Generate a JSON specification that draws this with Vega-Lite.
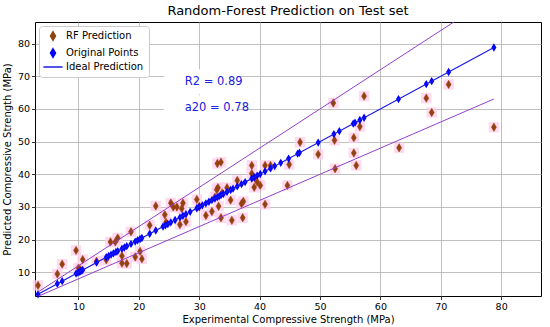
{
  "$schema": "https://vega.github.io/schema/vega-lite/v6.json",
  "autosize": "none",
  "width": 506,
  "height": 274,
  "padding": {"left": 35, "top": 22, "right": 9, "bottom": 31},
  "background": "white",
  "config": {
    "font": "DejaVu Sans",
    "view": {"stroke": "black", "strokeWidth": 1},
    "axis": {
      "gridColor": "#b0b0b0", "gridWidth": 0.8, "gridOpacity": 1,
      "domain": false, "tickColor": "black", "tickSize": 3.5, "tickWidth": 0.8,
      "labelFont": "DejaVu Sans", "labelFontSize": 9.5, "labelColor": "black", "labelPadding": 2, "labelOverlap": false, "labelFlush": false,
      "titleFont": "DejaVu Sans", "titleFontSize": 10, "titleFontWeight": "normal", "titleColor": "black"
    }
  },
  "title": {"text": "Random-Forest Prediction on Test set", "font": "DejaVu Sans", "fontSize": 13, "fontWeight": "normal", "color": "black", "offset": 4},
  "datasets": {
    "rf": [
      {"s":"RF Prediction","x":3.3,"y":6.0},{"s":"RF Prediction","x":6.5,"y":9.5},{"s":"RF Prediction","x":7.3,"y":12.5},
      {"s":"RF Prediction","x":9.6,"y":16.7},{"s":"RF Prediction","x":10.0,"y":11.3},{"s":"RF Prediction","x":10.3,"y":10.8},
      {"s":"RF Prediction","x":10.7,"y":13.9},{"s":"RF Prediction","x":13.0,"y":13.4},{"s":"RF Prediction","x":14.6,"y":13.8},
      {"s":"RF Prediction","x":15.3,"y":19.3},{"s":"RF Prediction","x":16.1,"y":19.3},{"s":"RF Prediction","x":16.5,"y":20.5},
      {"s":"RF Prediction","x":17.2,"y":12.8},{"s":"RF Prediction","x":17.2,"y":15.0},{"s":"RF Prediction","x":18.0,"y":12.7},
      {"s":"RF Prediction","x":18.7,"y":22.4},{"s":"RF Prediction","x":19.4,"y":14.7},{"s":"RF Prediction","x":20.2,"y":16.4},
      {"s":"RF Prediction","x":20.5,"y":14.1},{"s":"RF Prediction","x":21.8,"y":24.4},{"s":"RF Prediction","x":22.8,"y":30.3},
      {"s":"RF Prediction","x":24.3,"y":27.6},{"s":"RF Prediction","x":24.5,"y":25.3},{"s":"RF Prediction","x":25.3,"y":31.2},
      {"s":"RF Prediction","x":25.7,"y":30.0},{"s":"RF Prediction","x":26.3,"y":30.0},{"s":"RF Prediction","x":26.8,"y":24.6},
      {"s":"RF Prediction","x":27.1,"y":29.5},{"s":"RF Prediction","x":27.3,"y":31.2},{"s":"RF Prediction","x":27.8,"y":25.5},
      {"s":"RF Prediction","x":29.6,"y":32.3},{"s":"RF Prediction","x":30.0,"y":30.2},{"s":"RF Prediction","x":31.1,"y":27.4},
      {"s":"RF Prediction","x":32.1,"y":28.6},{"s":"RF Prediction","x":32.6,"y":33.0},{"s":"RF Prediction","x":32.9,"y":35.3},
      {"s":"RF Prediction","x":33.1,"y":35.9},{"s":"RF Prediction","x":33.0,"y":43.3},{"s":"RF Prediction","x":33.6,"y":43.7},
      {"s":"RF Prediction","x":33.2,"y":30.2},{"s":"RF Prediction","x":33.6,"y":26.7},{"s":"RF Prediction","x":33.8,"y":34.3},
      {"s":"RF Prediction","x":34.6,"y":35.9},{"s":"RF Prediction","x":35.2,"y":32.1},{"s":"RF Prediction","x":35.4,"y":25.9},
      {"s":"RF Prediction","x":36.3,"y":38.1},{"s":"RF Prediction","x":37.0,"y":31.0},{"s":"RF Prediction","x":37.3,"y":31.7},
      {"s":"RF Prediction","x":37.2,"y":26.7},{"s":"RF Prediction","x":38.7,"y":42.7},{"s":"RF Prediction","x":38.7,"y":40.2},
      {"s":"RF Prediction","x":39.2,"y":38.9},{"s":"RF Prediction","x":39.1,"y":36.0},{"s":"RF Prediction","x":39.6,"y":37.6},
      {"s":"RF Prediction","x":40.1,"y":36.6},{"s":"RF Prediction","x":40.9,"y":30.8},{"s":"RF Prediction","x":40.9,"y":42.7},
      {"s":"RF Prediction","x":41.8,"y":42.7},{"s":"RF Prediction","x":44.6,"y":36.6},{"s":"RF Prediction","x":44.9,"y":43.0},
      {"s":"RF Prediction","x":46.7,"y":49.8},{"s":"RF Prediction","x":49.7,"y":46.1},{"s":"RF Prediction","x":52.2,"y":61.8},
      {"s":"RF Prediction","x":52.4,"y":50.4},{"s":"RF Prediction","x":52.5,"y":41.7},{"s":"RF Prediction","x":55.6,"y":51.2},
      {"s":"RF Prediction","x":55.6,"y":46.5},{"s":"RF Prediction","x":56.0,"y":42.7},{"s":"RF Prediction","x":56.6,"y":54.6},
      {"s":"RF Prediction","x":57.3,"y":63.9},{"s":"RF Prediction","x":63.1,"y":48.1},{"s":"RF Prediction","x":67.6,"y":63.3},
      {"s":"RF Prediction","x":68.5,"y":58.9},{"s":"RF Prediction","x":71.3,"y":67.5},{"s":"RF Prediction","x":78.8,"y":54.4}
    ],
    "orig": [
      {"s":"Original Points","x":3.3,"y":3.3},{"s":"Original Points","x":6.5,"y":6.5},{"s":"Original Points","x":7.3,"y":7.3},{"s":"Original Points","x":9.6,"y":9.6},
      {"s":"Original Points","x":9.9,"y":9.9},{"s":"Original Points","x":10.1,"y":10.1},{"s":"Original Points","x":10.3,"y":10.3},{"s":"Original Points","x":10.5,"y":10.5},
      {"s":"Original Points","x":10.7,"y":10.7},{"s":"Original Points","x":13.0,"y":13.0},{"s":"Original Points","x":14.6,"y":14.6},{"s":"Original Points","x":15.0,"y":15.0},
      {"s":"Original Points","x":15.4,"y":15.4},{"s":"Original Points","x":15.8,"y":15.8},{"s":"Original Points","x":16.2,"y":16.2},{"s":"Original Points","x":16.5,"y":16.5},
      {"s":"Original Points","x":17.2,"y":17.2},{"s":"Original Points","x":17.6,"y":17.6},{"s":"Original Points","x":18.0,"y":18.0},{"s":"Original Points","x":18.7,"y":18.7},
      {"s":"Original Points","x":19.4,"y":19.4},{"s":"Original Points","x":19.8,"y":19.8},{"s":"Original Points","x":20.2,"y":20.2},{"s":"Original Points","x":20.5,"y":20.5},
      {"s":"Original Points","x":21.8,"y":21.8},{"s":"Original Points","x":22.8,"y":22.8},{"s":"Original Points","x":24.0,"y":24.0},{"s":"Original Points","x":24.4,"y":24.4},
      {"s":"Original Points","x":24.8,"y":24.8},{"s":"Original Points","x":25.3,"y":25.3},{"s":"Original Points","x":26.0,"y":26.0},{"s":"Original Points","x":26.8,"y":26.8},
      {"s":"Original Points","x":27.3,"y":27.3},{"s":"Original Points","x":27.8,"y":27.8},{"s":"Original Points","x":28.5,"y":28.5},{"s":"Original Points","x":29.6,"y":29.6},
      {"s":"Original Points","x":30.0,"y":30.0},{"s":"Original Points","x":30.5,"y":30.5},{"s":"Original Points","x":31.1,"y":31.1},{"s":"Original Points","x":31.6,"y":31.6},
      {"s":"Original Points","x":32.1,"y":32.1},{"s":"Original Points","x":32.6,"y":32.6},{"s":"Original Points","x":33.0,"y":33.0},{"s":"Original Points","x":33.3,"y":33.3},
      {"s":"Original Points","x":33.6,"y":33.6},{"s":"Original Points","x":34.0,"y":34.0},{"s":"Original Points","x":34.6,"y":34.6},{"s":"Original Points","x":35.2,"y":35.2},
      {"s":"Original Points","x":35.6,"y":35.6},{"s":"Original Points","x":36.3,"y":36.3},{"s":"Original Points","x":37.0,"y":37.0},{"s":"Original Points","x":37.6,"y":37.6},
      {"s":"Original Points","x":38.7,"y":38.7},{"s":"Original Points","x":39.1,"y":39.1},{"s":"Original Points","x":39.6,"y":39.6},{"s":"Original Points","x":40.1,"y":40.1},
      {"s":"Original Points","x":40.9,"y":40.9},{"s":"Original Points","x":41.8,"y":41.8},{"s":"Original Points","x":42.5,"y":42.5},{"s":"Original Points","x":43.5,"y":43.5},
      {"s":"Original Points","x":44.8,"y":44.8},{"s":"Original Points","x":46.3,"y":46.3},{"s":"Original Points","x":46.6,"y":46.6},{"s":"Original Points","x":49.7,"y":49.7},
      {"s":"Original Points","x":52.3,"y":52.3},{"s":"Original Points","x":53.2,"y":53.2},{"s":"Original Points","x":55.5,"y":55.5},{"s":"Original Points","x":55.8,"y":55.8},
      {"s":"Original Points","x":56.6,"y":56.6},{"s":"Original Points","x":57.3,"y":57.3},{"s":"Original Points","x":63.0,"y":63.0},{"s":"Original Points","x":67.6,"y":67.6},
      {"s":"Original Points","x":68.5,"y":68.5},{"s":"Original Points","x":71.3,"y":71.3},{"s":"Original Points","x":78.8,"y":78.8}
    ],
    "ideal": [
      {"s":"Ideal Prediction","x":3.3,"y":3.3},{"s":"Ideal Prediction","x":78.8,"y":78.8}
    ],
    "bounds": [
      {"g":"upper","x":3.3,"y":3.96},{"g":"upper","x":78.8,"y":94.56},
      {"g":"lower","x":3.3,"y":2.64},{"g":"lower","x":78.8,"y":63.04}
    ],
    "notes": [
      {"t":"R2 = 0.89","x":27.6,"y":68.3},{"t":"a20 = 0.78","x":27.6,"y":60.4}
    ]
  },
  "encoding": {
    "x": {"field": "x", "type": "quantitative", "scale": {"domain": [2.8, 86.6], "nice": false, "zero": false}, "axis": {"values": [10,20,30,40,50,60,70,80], "labelOverlap": false, "title": "Experimental Compressive Strength (MPa)", "titlePadding": 3}},
    "y": {"field": "y", "type": "quantitative", "scale": {"domain": [2.75, 86.6], "nice": false, "zero": false}, "axis": {"values": [10,20,30,40,50,60,70,80], "tickCount": 8, "labelOverlap": false, "title": "Predicted Compressive Strength (MPa)", "titlePadding": 5}}
  },
  "layer": [
    {
      "data": {"name": "notes"},
      "mark": {"type": "point", "filled": true, "shape": "M-1,-0.34H1V0.34H-1Z", "size": 5329, "color": "white", "opacity": 1, "xOffset": 16}
    },
    {
      "data": {"name": "rf"},
      "mark": {"type": "point", "filled": true, "shape": "square", "size": 110, "color": "#ffcfee", "opacity": 0.75}
    },
    {
      "data": {"name": "rf"},
      "mark": {"type": "point", "filled": true, "opacity": 1, "stroke": "#b83000", "strokeWidth": 0.5, "size": 70},
      "encoding": {
        "color": {"field": "s", "type": "nominal", "scale": {"domain": ["RF Prediction", "Original Points", "Ideal Prediction"], "range": ["#8B4513", "#0000ff", "#1a1ae6"]},
          "legend": {"title": null, "orient": "top-left", "offset": 4, "fillColor": "white", "strokeColor": "#cccccc", "cornerRadius": 3, "padding": 5, "labelFont": "DejaVu Sans", "labelFontSize": 10, "labelColor": "black", "rowPadding": 1, "symbolOffset": 4, "labelOffset": 8, "symbolSize": 70,
            "encode": {"symbols": {"update": {"stroke": {"scale": "color", "field": "value"}, "strokeWidth": {"value": 1.2}}}}}},
        "shape": {"field": "s", "type": "nominal", "scale": {"domain": ["RF Prediction", "Original Points", "Ideal Prediction"], "range": ["M0,-1L0.6,0L0,1L-0.6,0Z", "M0,-1L0.6,0L0,1L-0.6,0Z", "M-2.3,0H2.3"]}, "legend": null}
      }
    },
    {
      "data": {"name": "orig"},
      "mark": {"type": "point", "filled": true, "opacity": 1, "size": 70},
      "encoding": {
        "color": {"field": "s", "type": "nominal"},
        "shape": {"field": "s", "type": "nominal"}
      }
    },
    {
      "data": {"name": "ideal"},
      "mark": {"type": "line", "strokeWidth": 1.2, "clip": true},
      "encoding": {
        "color": {"field": "s", "type": "nominal"}
      }
    },
    {
      "data": {"name": "bounds"},
      "mark": {"type": "line", "strokeWidth": 1, "color": "#9440c8", "clip": true},
      "encoding": {
        "detail": {"field": "g", "type": "nominal"}
      }
    },
    {
      "data": {"name": "notes"},
      "mark": {"type": "text", "align": "left", "baseline": "middle", "fontSize": 11.5, "color": "#2020dd", "font": "DejaVu Sans"},
      "encoding": {
        "text": {"field": "t"}
      }
    }
  ]
}
